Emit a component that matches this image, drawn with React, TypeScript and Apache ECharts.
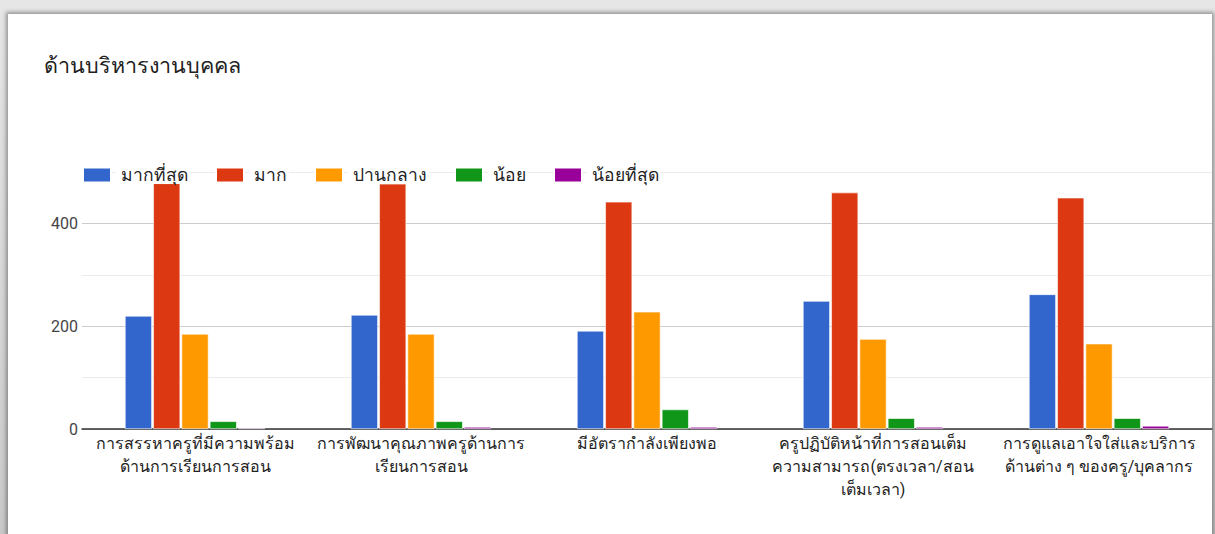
import React, { useEffect, useRef } from "react";
import * as echarts from "echarts";

const title = "ด้านบริหารงานบุคคล";
const categories = [
  "การสรรหาครูที่มีความพร้อม\nด้านการเรียนการสอน",
  "การพัฒนาคุณภาพครูด้านการ\nเรียนการสอน",
  "มีอัตรากำลังเพียงพอ",
  "ครูปฏิบัติหน้าที่การสอนเต็ม\nความสามารถ(ตรงเวลา/สอน\nเต็มเวลา)",
  "การดูแลเอาใจใส่และบริการ\nด้านต่าง ๆ ของครู/บุคลากร",
];
const seriesNames = ["มากที่สุด", "มาก", "ปานกลาง", "น้อย", "น้อยที่สุด"];
const mostValues = [220, 222, 191, 249, 262];
const muchValues = [478, 477, 442, 460, 450];
const mediumValues = [185, 185, 228, 175, 166];
const littleValues = [15, 15, 38, 21, 21];
const leastValues = [2, 4, 4, 4, 6];
const colors = ["#3366cc", "#dc3912", "#ff9900", "#109618", "#990099"];
const yTickLabels = [0, 200, 400];

const FONT = "Roboto, Arial, sans-serif";

export default function App() {
  const ref = useRef<HTMLDivElement>(null);
  useEffect(() => {
    if (!ref.current) return;
    const chart = echarts.init(ref.current, undefined, { renderer: "svg" });
    const all = [mostValues, muchValues, mediumValues, littleValues, leastValues];
    chart.setOption({
      animation: false,
      textStyle: { fontFamily: FONT },
      title: {
        text: title,
        left: 39,
        top: 49,
        textStyle: { fontSize: 21.5, fontWeight: "normal", color: "#212121", fontFamily: FONT },
      },
      legend: {
        left: 77,
        top: 161,
        itemWidth: 28,
        itemHeight: 15,
        itemGap: 25,
        icon: "rect",
        textStyle: {
          fontSize: 17.5,
          color: "#222",
          fontFamily: FONT,
          backgroundColor: "#fff",
          padding: [0, 2, 0, 5],
        },
        data: seriesNames,
      },
      grid: { left: 82, right: 3, top: 172, bottom: 105, containLabel: false },
      xAxis: {
        type: "category",
        data: categories,
        axisTick: { show: false },
        axisLine: { lineStyle: { color: "#333", width: 1.5 } },
        axisLabel: {
          interval: 0,
          fontSize: 16,
          color: "#222",
          lineHeight: 23,
          margin: 3,
          fontFamily: FONT,
        },
      },
      yAxis: {
        type: "value",
        min: 0,
        max: 500,
        interval: 100,
        axisLine: { show: false },
        axisTick: { show: false },
        axisLabel: {
          fontSize: 16,
          color: "#444",
          margin: 4,
          fontFamily: FONT,
          formatter: (v: number) => (yTickLabels.includes(v) ? String(v) : ""),
        },
        splitLine: { lineStyle: { color: ["#cccccc", "#ebebeb"], width: 1 } },
      },
      series: seriesNames.map((name, i) => ({
        name,
        type: "bar",
        data: all[i],
        barCategoryGap: "38%",
        barGap: "5%",
        itemStyle: { color: colors[i], borderColor: "#fff", borderWidth: 0.6 },
      })),
    });
    return () => chart.dispose();
  }, []);

  return (
    <div
      style={{
        position: "fixed",
        left: 0,
        top: 0,
        width: 1215,
        height: 534,
        background: "linear-gradient(#e6e6e6, #c9c9c9)",
        overflow: "hidden",
      }}
    >
      <div
        style={{
          position: "absolute",
          left: 8,
          top: 14,
          width: 1204,
          height: 540,
          background: "#fff",
          boxShadow: "0 0 4px 2px rgba(0,0,0,0.35)",
        }}
      />
      <div ref={ref} style={{ position: "absolute", left: 0, top: 0, width: 1215, height: 534 }} />
    </div>
  );
}
